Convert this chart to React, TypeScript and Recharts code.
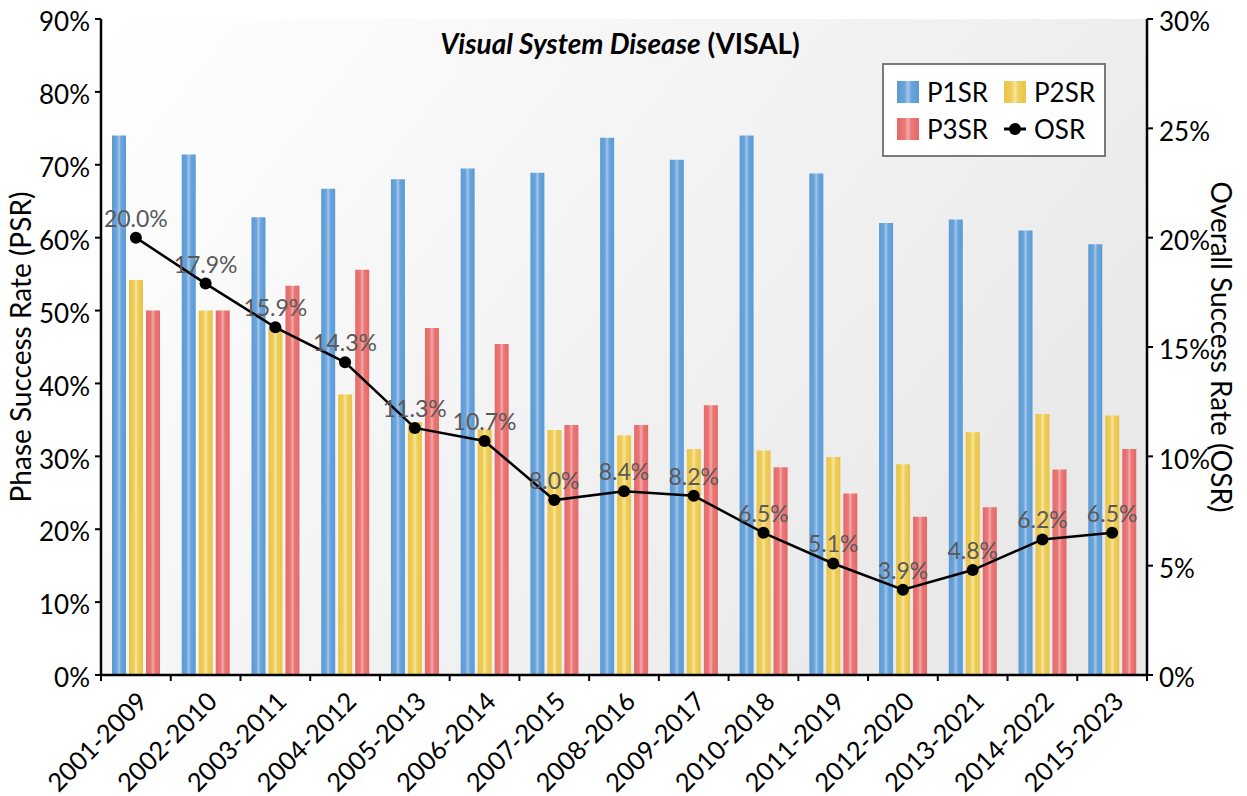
import React from 'react';
import { ComposedChart, Bar, Line, XAxis, YAxis, CartesianGrid, LabelList } from 'recharts';

const categories = ['2001-2009','2002-2010','2003-2011','2004-2012','2005-2013','2006-2014','2007-2015','2008-2016','2009-2017','2010-2018','2011-2019','2012-2020','2013-2021','2014-2022','2015-2023'];
const p1sr = [74.0,71.4,62.8,66.7,68.0,69.5,68.9,73.7,70.7,74.0,68.8,62.0,62.5,61.0,59.1];
const p2sr = [54.2,50.0,47.6,38.5,34.7,33.7,33.6,32.9,31.0,30.8,29.9,28.9,33.3,35.8,35.6];
const p3sr = [50.0,50.0,53.4,55.6,47.6,45.4,34.3,34.3,37.0,28.5,24.9,21.7,23.0,28.2,31.0];
const osr = [20.0,17.9,15.9,14.3,11.3,10.7,8.0,8.4,8.2,6.5,5.1,3.9,4.8,6.2,6.5];
const leftTicks = [0,10,20,30,40,50,60,70,80,90];
const rightTicks = [0,5,10,15,20,25,30];

const data = categories.map((c, i) => ({ cat: c, P1SR: p1sr[i], P2SR: p2sr[i], P3SR: p3sr[i], OSR: osr[i] }));

const W = 1247, H = 796;
const M = { top: 19, right: 0, bottom: 0, left: 0 };
const LEFT_W = 101, RIGHT_W = 100, X_H = 121;
const PLOT_W = W - LEFT_W - RIGHT_W;
const HALF_BAND = PLOT_W / categories.length / 2;
const FONT = 'Lato, "Open Sans", sans-serif';

const barSeries = [
  { key: 'P1SR', grad: 'gBlue', edge: '#5b9ad4', mid: '#6aa5db', center: '#a6c6ec' },
  { key: 'P2SR', grad: 'gYellow', edge: '#e8c448', mid: '#eecf5c', center: '#fbe6a0' },
  { key: 'P3SR', grad: 'gRed', edge: '#e56868', mid: '#ea7777', center: '#f4abab' },
];

const XTick = (props: any) => {
  const { x, y, payload, index } = props;
  const axisY = y - 6;
  const ax = x + 13, ay = axisY + 28;
  return (
    <g>
      <line x1={x - HALF_BAND} y1={axisY} x2={x - HALF_BAND} y2={axisY + 6} stroke="#000" strokeWidth={2} />
      {index === categories.length - 1 && (
        <line x1={x + HALF_BAND} y1={axisY} x2={x + HALF_BAND} y2={axisY + 6} stroke="#000" strokeWidth={2} />
      )}
      <text x={ax} y={ay} transform={`rotate(-45 ${ax} ${ay})`} textAnchor="end" fontSize={25.5} fontFamily={FONT} fill="#000">
        {payload.value}
      </text>
    </g>
  );
};

const YTick = (props: any) => {
  const { x, y, payload, textAnchor } = props;
  return (
    <text x={x} y={y + 3} dy="0.355em" textAnchor={textAnchor} fontSize={26} fontFamily={FONT} fill="#000">
      {`${payload.value}%`}
    </text>
  );
};

const LeftTitle = (props: any) => {
  const vb = props.viewBox || {};
  const cx = (vb.x || 0) + 20;
  const cy = (vb.y || 0) + (vb.height || 0) / 2;
  return (
    <text x={cx} y={cy} transform={`rotate(-90 ${cx} ${cy})`} textAnchor="middle" dominantBaseline="central" fontSize={28} fontFamily={FONT} fill="#000">
      Phase Success Rate (PSR)
    </text>
  );
};

const RightTitle = (props: any) => {
  const vb = props.viewBox || {};
  const cx = (vb.x || 0) + (vb.width || 0) - 25;
  const cy = (vb.y || 0) + (vb.height || 0) / 2;
  return (
    <text x={cx} y={cy} transform={`rotate(90 ${cx} ${cy})`} textAnchor="middle" dominantBaseline="central" fontSize={28} fontFamily={FONT} fill="#000">
      Overall Success Rate (OSR)
    </text>
  );
};

const Swatch = ({ s }: any) => (
  <div style={{ width: 22, height: 22, background: `linear-gradient(to right, ${s.edge} 0%, ${s.mid} 35%, ${s.center} 50%, ${s.mid} 65%, ${s.edge} 100%)` }} />
);

const LegendBox = () => {
  const items = [
    { label: 'P1SR', el: <Swatch s={barSeries[0]} /> },
    { label: 'P2SR', el: <Swatch s={barSeries[1]} /> },
    { label: 'P3SR', el: <Swatch s={barSeries[2]} /> },
    {
      label: 'OSR',
      el: (
        <svg width={22} height={22}>
          <line x1={0} y1={11} x2={22} y2={11} stroke="#000" strokeWidth={3} />
          <circle cx={11} cy={11} r={6} fill="#000" />
        </svg>
      ),
    },
  ];
  return (
    <div style={{ position: 'absolute', left: 882, top: 63, width: 224, height: 94, boxSizing: 'border-box', border: '2px solid #7a7a7a', background: '#fff', fontFamily: FONT, fontSize: 26, color: '#000' }}>
      {items.map((it, i) => (
        <div key={it.label} style={{ position: 'absolute', left: i % 2 === 0 ? 13 : 120, top: i < 2 ? 16 : 53, display: 'flex', alignItems: 'center', height: 22 }}>
          {it.el}
          <span style={{ marginLeft: 8, lineHeight: '22px' }}>{it.label}</span>
        </div>
      ))}
    </div>
  );
};

export default function App() {
  return (
    <div style={{ position: 'absolute', left: 0, top: 0, width: W, height: H, background: '#fff' }}>
      <ComposedChart width={W} height={H} data={data} margin={M} barSize={14} barGap={3}>
        <defs>
          {barSeries.map((s) => (
            <linearGradient key={s.grad} id={s.grad} x1="0" y1="0" x2="1" y2="0">
              <stop offset="0%" stopColor={s.edge} />
              <stop offset="35%" stopColor={s.mid} />
              <stop offset="50%" stopColor={s.center} />
              <stop offset="65%" stopColor={s.mid} />
              <stop offset="100%" stopColor={s.edge} />
            </linearGradient>
          ))}
          <linearGradient id="bg" x1="0" y1="0" x2="1" y2="0.5">
            <stop offset="0%" stopColor="#ffffff" />
            <stop offset="100%" stopColor="#e9e9e9" />
          </linearGradient>
        </defs>
        <CartesianGrid horizontal={false} vertical={false} fill="url(#bg)" fillOpacity={1} />
        <XAxis
          dataKey="cat"
          height={X_H}
          interval={0}
          tickLine={false}
          tickSize={6}
          tickMargin={0}
          axisLine={{ stroke: '#000', strokeWidth: 2.5 }}
          tick={<XTick />}
        />
        <YAxis
          yAxisId="left"
          width={LEFT_W}
          domain={[0, 90]}
          ticks={leftTicks}
          interval={0}
          axisLine={{ stroke: '#000', strokeWidth: 2.5 }}
          tickLine={{ stroke: '#000', strokeWidth: 2 }}
          tickSize={6}
          tickMargin={5}
          tick={<YTick />}
          label={{ content: <LeftTitle /> }}
        />
        <YAxis
          yAxisId="right"
          orientation="right"
          width={RIGHT_W}
          domain={[0, 30]}
          ticks={rightTicks}
          interval={0}
          axisLine={{ stroke: '#000', strokeWidth: 2.5 }}
          tickLine={{ stroke: '#000', strokeWidth: 2 }}
          tickSize={6}
          tickMargin={6}
          tick={<YTick />}
          label={{ content: <RightTitle /> }}
        />
        {barSeries.map((s) => (
          <Bar key={s.key} yAxisId="left" dataKey={s.key} fill={`url(#${s.grad})`} isAnimationActive={false} />
        ))}
        <Line
          yAxisId="right"
          dataKey="OSR"
          stroke="#000"
          strokeWidth={2.5}
          dot={{ r: 6, fill: '#000', stroke: '#000', strokeWidth: 0 }}
          activeDot={false}
          isAnimationActive={false}
        >
          <LabelList dataKey="OSR" position="top" offset={11} formatter={(v: any) => `${Number(v).toFixed(1)}%`} fill="#595959" fontSize={23} fontFamily={FONT} />
        </Line>
      </ComposedChart>
      <div style={{ position: 'absolute', left: 370, top: 27, width: 500, textAlign: 'center', fontFamily: FONT, fontSize: 28, fontWeight: 700, color: '#000', lineHeight: '32px' }}>
        <i>Visual System Disease</i> (VISAL)
      </div>
      <LegendBox />
    </div>
  );
}
